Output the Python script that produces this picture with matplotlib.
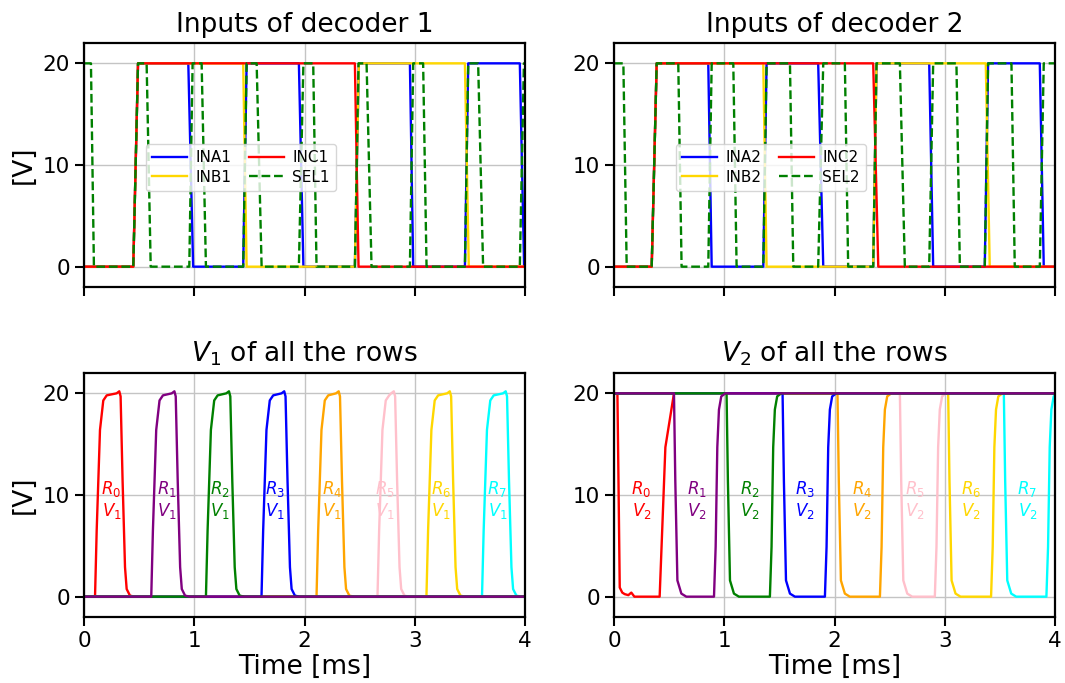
import matplotlib
matplotlib.use("Agg")
import matplotlib.pyplot as plt

# ---------------------------------------------------------------- data
HIGH = 20.0
T_END = 4.0

# Decoder input waveforms: initial level and (ramp start, ramp end) of each edge [ms]
INA1_start, INA1_edges = 0, [(0.447, 0.490), (0.946, 0.990), (1.444, 1.475), (1.949, 1.990),
                             (2.457, 2.493), (2.956, 2.986), (3.455, 3.485), (3.953, 3.992)]
INB1_start, INB1_edges = 0, [(0.447, 0.490), (1.444, 1.475), (2.457, 2.493), (3.455, 3.490)]
INC1_start, INC1_edges = 0, [(0.447, 0.490), (2.457, 2.490)]
SEL1_start, SEL1_edges = 20, [(0.063, 0.090), (0.447, 0.490), (0.568, 0.605), (0.955, 0.985),
                              (1.067, 1.106), (1.444, 1.475), (1.566, 1.611), (1.949, 1.990),
                              (2.079, 2.109), (2.457, 2.490), (2.563, 2.608), (2.956, 2.986),
                              (3.076, 3.107), (3.455, 3.485), (3.575, 3.620), (3.953, 3.990)]

INA2_start, INA2_edges = 0, [(0.342, 0.387), (0.855, 0.886), (1.354, 1.384), (1.852, 1.898),
                             (2.351, 2.381), (2.859, 2.895), (3.363, 3.393), (3.862, 3.898)]
INB2_start, INB2_edges = 0, [(0.342, 0.387), (1.354, 1.384), (2.351, 2.381), (3.372, 3.408)]
INC2_start, INC2_edges = 0, [(0.342, 0.387), (2.351, 2.397)]
SEL2_start, SEL2_edges = 20, [(0.085, 0.115), (0.342, 0.387), (0.583, 0.613), (0.855, 0.886),
                              (1.082, 1.112), (1.354, 1.384), (1.596, 1.626), (1.852, 1.898),
                              (2.094, 2.124), (2.351, 2.381), (2.593, 2.638), (2.859, 2.895),
                              (3.106, 3.137), (3.363, 3.393), (3.605, 3.635), (3.862, 3.898)]

row_colors = ["red", "purple", "green", "blue", "orange", "pink", "gold", "cyan"]
label_x = [0.25, 0.755, 1.23, 1.73, 2.25, 2.73, 3.24, 3.75]
label_y = 9.5

# V1 of each row: breakpoint times [ms] with a common level profile [V]
V1_levels = [0, 0, 6.5, 16.4, 19.3, 19.8, 20.0, 20.2, 19.7, 11.4, 2.9, 0.75, 0.1, 0, 0]
V1_times = [
    [0, 0.100, 0.115, 0.145, 0.175, 0.206, 0.296, 0.320, 0.332, 0.350, 0.372, 0.387, 0.417, 0.460, 4],
    [0, 0.610, 0.625, 0.655, 0.685, 0.716, 0.796, 0.820, 0.832, 0.850, 0.872, 0.887, 0.917, 0.960, 4],
    [0, 1.106, 1.121, 1.151, 1.181, 1.212, 1.291, 1.315, 1.327, 1.345, 1.367, 1.382, 1.412, 1.455, 4],
    [0, 1.610, 1.625, 1.655, 1.685, 1.716, 1.792, 1.816, 1.828, 1.846, 1.868, 1.883, 1.913, 1.956, 4],
    [0, 2.109, 2.124, 2.154, 2.184, 2.215, 2.286, 2.310, 2.322, 2.340, 2.362, 2.377, 2.407, 2.450, 4],
    [0, 2.662, 2.677, 2.707, 2.737, 2.768, 2.786, 2.810, 2.822, 2.840, 2.862, 2.877, 2.907, 2.950, 4],
    [0, 3.106, 3.121, 3.151, 3.181, 3.212, 3.294, 3.318, 3.330, 3.348, 3.370, 3.385, 3.415, 3.458, 4],
    [0, 3.610, 3.625, 3.655, 3.685, 3.716, 3.801, 3.825, 3.837, 3.855, 3.877, 3.892, 3.922, 3.965, 4],
]

# V2 of each row: breakpoint times [ms] and levels [V]
V2_levels_row0 = [20, 20, 12, 0.9, 0.4, 0.25, 0.15, 0.4, 0, 0, 14.7, 20, 20]
V2_times_row0 = [0, 0.031, 0.040, 0.052, 0.075, 0.097, 0.130, 0.157, 0.185, 0.414, 0.466, 0.544, 4]
V2_levels = [20, 20, 11.4, 1.6, 0.3, 0, 0, 4.9, 14.7, 18.4, 19.7, 20, 20]
V2_times = [
    [0, 0.544, 0.556, 0.575, 0.611, 0.656, 0.907, 0.922, 0.937, 0.952, 0.973, 1.010, 4],
    [0, 1.021, 1.033, 1.052, 1.088, 1.133, 1.414, 1.429, 1.444, 1.459, 1.480, 1.517, 4],
    [0, 1.529, 1.541, 1.560, 1.596, 1.641, 1.913, 1.928, 1.943, 1.958, 1.979, 2.016, 4],
    [0, 2.027, 2.039, 2.058, 2.094, 2.139, 2.412, 2.427, 2.442, 2.457, 2.478, 2.515, 4],
    [0, 2.593, 2.605, 2.624, 2.660, 2.705, 2.910, 2.925, 2.940, 2.955, 2.976, 3.013, 4],
    [0, 3.031, 3.043, 3.062, 3.098, 3.143, 3.420, 3.435, 3.450, 3.465, 3.486, 3.523, 4],
    [0, 3.536, 3.548, 3.567, 3.603, 3.648, 3.922, 3.937, 3.952, 3.967, 3.988, 4.025, 4.1],
]

# order in which the rows are stacked (last one on top)
draw_order = [0, 7, 6, 5, 4, 3, 2, 1]


def edges_to_wave(start, edges):
    """Piecewise-linear waveform toggling between 0 and HIGH at the given ramps."""
    t, v = [0.0], [start]
    level = start
    for a, b in edges:
        t += [a, b]
        v += [level, HIGH - level]
        level = HIGH - level
    t.append(T_END)
    v.append(level)
    return t, v


# ---------------------------------------------------------------- style
plt.rcParams.update({
    "font.family": "DejaVu Sans",
    "mathtext.fontset": "dejavusans",
    "axes.linewidth": 1.6,
    "xtick.major.size": 6.5,
    "ytick.major.size": 6.5,
    "xtick.major.width": 1.5,
    "ytick.major.width": 1.5,
    "xtick.labelsize": 15.5,
    "ytick.labelsize": 15.5,
})

fig = plt.figure(figsize=(10.65, 6.83), dpi=100)
W, H = 1065.0, 683.0


def add_axes(x0, y0, x1, y1):
    return fig.add_axes([x0 / W, 1 - y1 / H, (x1 - x0) / W, (y1 - y0) / H])


ax_tl = add_axes(84, 43, 525, 287)
ax_tr = add_axes(614, 43, 1055, 287)
ax_bl = add_axes(84, 373, 525, 617)
ax_br = add_axes(614, 373, 1055, 617)

LW = 1.7
TITLE_FS = 19

for ax in (ax_tl, ax_tr, ax_bl, ax_br):
    ax.set_xlim(0, 4)
    ax.set_ylim(-2, 22)
    ax.set_xticks([0, 1, 2, 3, 4])
    ax.set_yticks([0, 10, 20])
    ax.grid(True, color="#c4c4c4", linewidth=1.0)
    ax.set_axisbelow(True)

# ---------------------------------------------------------------- inputs
inputs = [
    (ax_tl, "1", [(INA1_start, INA1_edges), (INB1_start, INB1_edges),
                  (INC1_start, INC1_edges), (SEL1_start, SEL1_edges)]),
    (ax_tr, "2", [(INA2_start, INA2_edges), (INB2_start, INB2_edges),
                  (INC2_start, INC2_edges), (SEL2_start, SEL2_edges)]),
]
sig_names = ["INA", "INB", "INC", "SEL"]
sig_colors = ["blue", "gold", "red", "green"]
sig_styles = ["-", "-", "-", "--"]

for ax, idx, sigs in inputs:
    for (start, edges), name, col, ls in zip(sigs, sig_names, sig_colors, sig_styles):
        t, v = edges_to_wave(start, edges)
        ax.plot(t, v, color=col, linestyle=ls, linewidth=LW, label=name + idx)
    ax.set_title("Inputs of decoder " + idx, fontsize=TITLE_FS, pad=8)
    ax.tick_params(labelbottom=False)
    ax.legend(ncol=2, loc="center", bbox_to_anchor=(0.356, 0.49), fontsize=11,
              handlelength=2.3, columnspacing=1.1, handletextpad=0.55,
              borderpad=0.4, labelspacing=0.3)

ax_tl.set_ylabel("[V]", fontsize=TITLE_FS)

# ---------------------------------------------------------------- row voltages
for k in draw_order:
    ax_bl.plot(V1_times[k], V1_levels, color=row_colors[k], linewidth=LW)
    if k == 0:
        ax_br.plot(V2_times_row0, V2_levels_row0, color=row_colors[k], linewidth=LW)
    else:
        ax_br.plot(V2_times[k - 1], V2_levels, color=row_colors[k], linewidth=LW)

for ax, sub in ((ax_bl, "1"), (ax_br, "2")):
    for k in range(8):
        ax.text(label_x[k], label_y, "$R_{%d}$\n$V_{%s}$" % (k, sub),
                color=row_colors[k], fontsize=12, ha="center", va="center",
                linespacing=1.1)
    ax.set_xlabel("Time [ms]", fontsize=TITLE_FS, labelpad=2)
    ax.set_title("$V_{%s}$ of all the rows" % sub, fontsize=TITLE_FS, pad=8)

ax_bl.set_ylabel("[V]", fontsize=TITLE_FS)

fig.savefig("out.png", dpi=100)
